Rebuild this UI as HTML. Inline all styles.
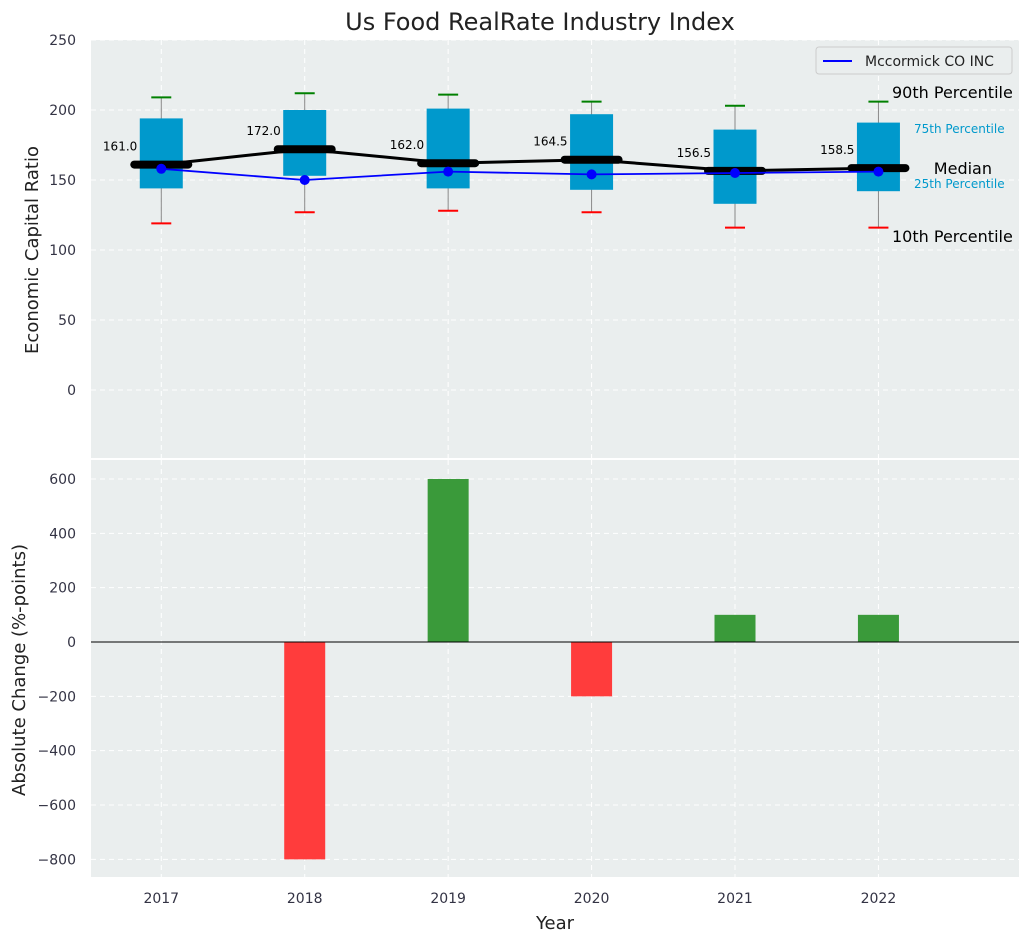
<!DOCTYPE html>
<html><head><meta charset="utf-8"><style>
body{margin:0;background:#fff;font-family:"DejaVu Sans","Liberation Sans",sans-serif}
svg text{font-family:"DejaVu Sans","Liberation Sans",sans-serif}
</style></head><body>
<svg id="c" width="1029" height="942" xmlns="http://www.w3.org/2000/svg"></svg>
<script>
const years=[2017,2018,2019,2020,2021,2022];
const q1=[144,153,144,143,133,142];
const q3=[194,200,201,197,186,191];
const p10=[119,127,128,127,116,116];
const p90=[209,212,211,206,203,206];
const medians=[161,172,162,164.5,156.5,158.5];
const company=[158,150,156,154,155,156];
const changes=[0,-800,600,-200,100,100];
const topTicks=[0,50,100,150,200,250];
const botTicks=[-800,-600,-400,-200,0,200,400,600];

const svg=document.getElementById('c');
const NS='http://www.w3.org/2000/svg';
function el(t,a,txt){const e=document.createElementNS(NS,t);for(const k in a)e.setAttribute(k,a[k]);if(txt!==undefined)e.textContent=txt;svg.appendChild(e);return e;}
const L=91,R=1019;
const x=v=>L+(v-2016.51)/(2022.98-2016.51)*(R-L);
const yT=v=>40+(250-v)*1.4;
const yB=v=>642-v*0.2717;

el('text',{x:540,y:30,'font-size':24,'text-anchor':'middle',fill:'#222',},'Us Food RealRate Industry Index');
let p=el('rect',{x:L,y:40,width:R-L,height:418,fill:'#eaeeee'});

p=el('rect',{x:L,y:460,width:R-L,height:417,fill:'#eaeeee'});


topTicks.forEach(t=>{
  let g=el('line',{x1:L,x2:R,y1:yT(t),y2:yT(t),stroke:'#fff','stroke-dasharray':'5,4'});
  
  let tx=el('text',{x:76,y:yT(t)+5,'font-size':14,'text-anchor':'end',fill:'#334'},t);
  
});
botTicks.forEach(t=>{
  let g=el('line',{x1:L,x2:R,y1:yB(t),y2:yB(t),stroke:'#fff','stroke-dasharray':'5,4'});
  
  let tx=el('text',{x:76,y:yB(t)+5,'font-size':14,'text-anchor':'end',fill:'#334'},t<0?'\u2212'+(-t):t);
  
});
years.forEach(yr=>{
  let g=el('line',{x1:x(yr),x2:x(yr),y1:40,y2:458,stroke:'#fff','stroke-dasharray':'5,4'});
  
  g=el('line',{x1:x(yr),x2:x(yr),y1:460,y2:877,stroke:'#fff','stroke-dasharray':'5,4'});
  
  let tx=el('text',{x:x(yr),y:903,'font-size':14,'text-anchor':'middle',fill:'#334'},yr);
  
});

years.forEach((yr,i)=>{
  const cx=x(yr),hw=21.5;
  let w=el('line',{x1:cx,x2:cx,y1:yT(p90[i]),y2:yT(p10[i]),stroke:'#888','stroke-width':1});
  
  let b=el('rect',{x:cx-hw,y:yT(q3[i]),width:2*hw,height:yT(q1[i])-yT(q3[i]),fill:'#0099cc'});
  
  let c=el('line',{x1:cx-10,x2:cx+10,y1:yT(p90[i]),y2:yT(p90[i]),stroke:'green','stroke-width':2});
  
  c=el('line',{x1:cx-10,x2:cx+10,y1:yT(p10[i]),y2:yT(p10[i]),stroke:'red','stroke-width':2});
  
});
let mp=years.map((yr,i)=>x(yr)+','+yT(medians[i])).join(' ');
let ml=el('polyline',{points:mp,fill:'none',stroke:'#000','stroke-width':3});

years.forEach((yr,i)=>{
  let m=el('line',{x1:x(yr)-27,x2:x(yr)+27,y1:yT(medians[i]),y2:yT(medians[i]),stroke:'#000','stroke-width':8,'stroke-linecap':'round'});
  
  let t=el('text',{x:x(yr)-24,y:yT(medians[i])-14,'font-size':12,'text-anchor':'end',fill:'#000'},medians[i].toFixed(1));
  
});
let cp=years.map((yr,i)=>x(yr)+','+yT(company[i])).join(' ');
let cl=el('polyline',{points:cp,fill:'none',stroke:'#0000ff','stroke-width':1.8});

years.forEach((yr,i)=>{
  let d=el('circle',{cx:x(yr),cy:yT(company[i]),r:5,fill:'#0000ff'});
  
});
const ann=[[892,98,'90th Percentile',16,'#000','start'],[914,133,'75th Percentile',12,'#0099cc','start'],[992,174,'Median',16,'#000','end'],[914,188,'25th Percentile',12,'#0099cc','start'],[892,242,'10th Percentile',16,'#000','start']];
ann.forEach(a=>{let t=el('text',{x:a[0],y:a[1],'font-size':a[3],fill:a[4],'text-anchor':a[5]},a[2]);});
let lg=el('rect',{x:816,y:47,width:196,height:27,rx:3,fill:'#eaeeee',stroke:'#ccc'});

el('line',{x1:823,x2:852,y1:61,y2:61,stroke:'#0000ff','stroke-width':2,});
el('text',{x:865,y:66,'font-size':14,fill:'#222',},'Mccormick CO INC');

years.forEach((yr,i)=>{
  const v=changes[i];if(v===0)return;
  const y0=yB(Math.max(0,v)),y1=yB(Math.min(0,v));
  let b=el('rect',{x:x(yr)-20.5,y:y0,width:41,height:y1-y0,fill:v>0?'#3a9a3a':'#ff3c3c'});
  
});
el('line',{x1:L,x2:R,y1:yB(0),y2:yB(0),stroke:'#000','stroke-width':1,});

el('text',{x:38,y:250,'font-size':18,fill:'#222','text-anchor':'middle',transform:'rotate(-90 38 250)',},'Economic Capital Ratio');
el('text',{x:25,y:670,'font-size':18,fill:'#222','text-anchor':'middle',transform:'rotate(-90 25 670)',},'Absolute Change (%-points)');
el('text',{x:555,y:929,'font-size':18,fill:'#222','text-anchor':'middle',},'Year');
</script>
</body></html>
